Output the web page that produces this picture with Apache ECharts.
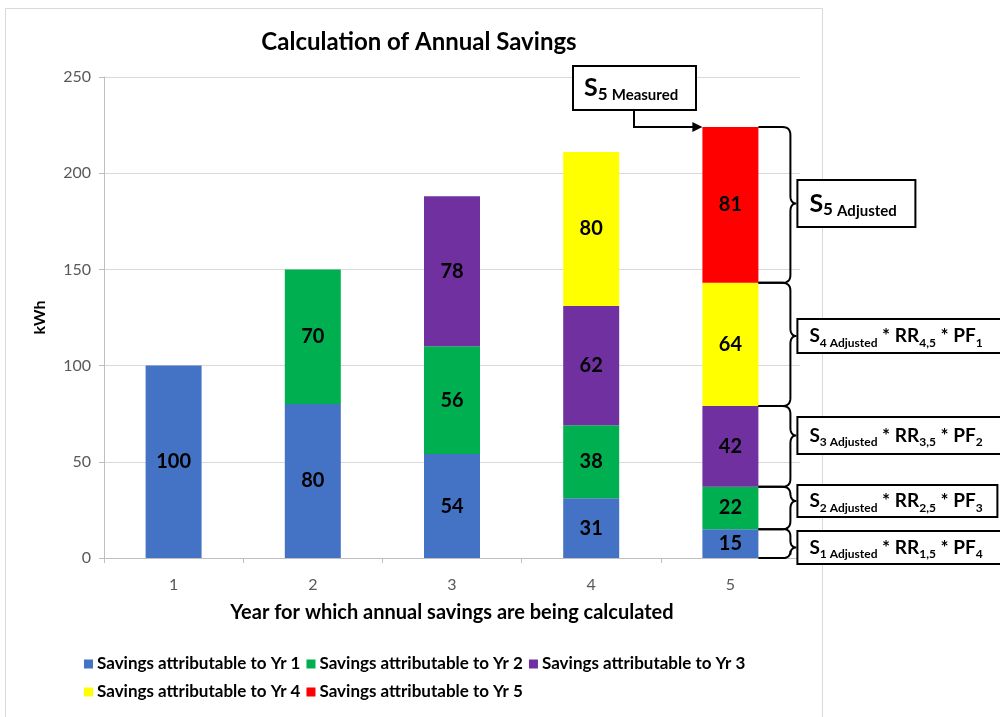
<!DOCTYPE html>
<html>
<head>
<meta charset="utf-8">
<script src="https://cdn.jsdelivr.net/npm/echarts@6/dist/echarts.min.js"></script>
<style>
  html, body { margin: 0; padding: 0; background: #fff; }
  #chart { width: 1000px; height: 717px; }
</style>
</head>
<body>
<div id="chart"></div>
<script>
// 数据
const years = ["1", "2", "3", "4", "5"];
const seriesNames = [
  "Savings attributable to Yr 1",
  "Savings attributable to Yr 2",
  "Savings attributable to Yr 3",
  "Savings attributable to Yr 4",
  "Savings attributable to Yr 5",
];
const yr1 = [100, 80, 54, 31, 15];
const yr2 = ["-", 70, 56, 38, 22];
const yr3 = ["-", "-", 78, 62, 42];
const yr4 = ["-", "-", "-", 80, 64];
const yr5 = ["-", "-", "-", "-", 81];
const colors = ["#4472C4", "#00B050", "#7030A0", "#FFFF00", "#FF0000"];
const yTicks = [0, 50, 100, 150, 200, 250];

const FONT = "Lato";
const allData = [yr1, yr2, yr3, yr4, yr5];

let myChart = echarts.init(document.getElementById("chart"));

myChart.setOption({
  animation: false,
  color: colors,
  title: {
    text: "Calculation of Annual Savings",
    left: 414,
    top: 25,
    textAlign: "center",
    textStyle: { fontFamily: FONT, fontSize: 24, fontWeight: "bold", color: "#000" },
  },
  legend: {
    left: 79,
    top: 648,
    width: 720,
    itemWidth: 9,
    itemHeight: 9,
    itemGap: 6,
    icon: "rect",
    textStyle: { fontFamily: FONT, fontSize: 17, fontWeight: "bold", color: "#000", padding: [0, 0, 0, -1], lineHeight: 22 },
    data: seriesNames,
  },
  grid: {
    left: 104,
    right: 200,
    top: 77,
    bottom: 159,
  },
  xAxis: {
    type: "category",
    data: years,
    name: "Year for which annual savings are being calculated",
    nameLocation: "middle",
    nameGap: 45,
    nameTextStyle: { fontFamily: FONT, fontSize: 20, fontWeight: "bold", color: "#000" },
    axisLine: { show: true, lineStyle: { color: "#bfbfbf" } },
    axisTick: { show: true, alignWithLabel: false, length: 5, lineStyle: { color: "#bfbfbf" } },
    axisLabel: { fontFamily: FONT, fontSize: 16, color: "#595959", margin: 19 },
  },
  yAxis: {
    type: "value",
    min: 0,
    max: 250,
    interval: 50,
    name: "kWh",
    nameLocation: "middle",
    nameGap: 56,
    nameTextStyle: { fontFamily: FONT, fontSize: 16, fontWeight: "bold", color: "#000" },
    axisLine: { show: true, lineStyle: { color: "#bfbfbf" } },
    axisTick: { show: true, length: 5, lineStyle: { color: "#bfbfbf" } },
    axisLabel: {
      fontFamily: FONT, fontSize: 16, color: "#595959", margin: 13,
      formatter: function (v) { return yTicks.indexOf(v) >= 0 ? String(v) : ""; },
    },
    splitLine: { lineStyle: { color: "#d9d9d9" } },
  },
  series: seriesNames.map(function (name, i) {
    return {
      name: name,
      type: "bar",
      stack: "total",
      barWidth: 56,
      data: allData[i],
      itemStyle: { color: colors[i] },
      label: {
        show: true,
        position: "inside",
        fontFamily: FONT,
        fontSize: 20,
        fontWeight: "bold",
        color: "#000",
      },
    };
  }),
});

// 注释：大括号和方框
function px(ci, v) {
  return myChart.convertToPixel({ gridIndex: 0 }, [ci, v]);
}

// 二次曲线采样
function quad(pts, p0, p1, p2) {
  for (let t = 0.125; t <= 1.0001; t += 0.125) {
    let a = (1 - t) * (1 - t), b = 2 * (1 - t) * t, c = t * t;
    pts.push([a * p0[0] + b * p1[0] + c * p2[0], a * p0[1] + b * p1[1] + c * p2[1]]);
  }
}

function bracePoints(x0, xv, xt, yTop, yBot, ym) {
  let h = yBot - yTop;
  let r = Math.min(8, h / 4);
  let pts = [[x0, yTop], [xv - r, yTop]];
  quad(pts, [xv - r, yTop], [xv, yTop], [xv, yTop + r]);
  pts.push([xv, ym - r]);
  quad(pts, [xv, ym - r], [xv, ym], [xt, ym]);
  quad(pts, [xt, ym], [xv, ym], [xv, ym + r]);
  pts.push([xv, yBot - r]);
  quad(pts, [xv, yBot - r], [xv, yBot], [xv - r, yBot]);
  pts.push([x0, yBot]);
  return pts;
}

const subRich = {
  b: { fontFamily: FONT, fontSize: 19, fontWeight: "bold", color: "#000", lineHeight: 26, verticalAlign: "middle" },
  s: { fontFamily: FONT, fontSize: 12, fontWeight: "bold", color: "#000", lineHeight: 26, verticalAlign: "bottom" },
  B: { fontFamily: FONT, fontSize: 25, fontWeight: "bold", color: "#000", lineHeight: 30, verticalAlign: "middle" },
  S: { fontFamily: FONT, fontSize: 17, fontWeight: "bold", color: "#000", lineHeight: 30, verticalAlign: "bottom" },
  m: { fontFamily: FONT, fontSize: 15, fontWeight: "bold", color: "#000", lineHeight: 30, verticalAlign: "bottom" },
};

function adjText(k, rr, pf) {
  return "{b|S}{s|" + k + " Adjusted}{b| * RR}{s|" + rr + "}{b| * PF}{s|" + pf + "}";
}

let cum = [0];
for (let i = 0; i < allData.length; i++) {
  cum.push(cum[i] + allData[i][4]);
}
let xc = px(4, 0)[0];
let barRight = xc + 28;
let xv = barRight + 32;
let xt = xv + 6;
let boxLeft = xt + 1;

// 方框位置 (像素)
const boxes = [
  { top: 180, h: 47, w: 118, text: "{B|S}{S|5 }{m|Adjusted}" },
  { top: 319, h: 34, w: 210, text: adjText(4, "4,5", 1) },
  { top: 417, h: 37, w: 210, text: adjText(3, "3,5", 2) },
  { top: 485, h: 32, w: 200, text: adjText(2, "2,5", 3) },
  { top: 531, h: 33, w: 210, text: adjText(1, "1,5", 4) },
];

let graphics = [];
// 外框
graphics.push({
  type: "rect",
  z: -10,
  shape: { x: 5.5, y: 8.5, width: 817, height: 720 },
  style: { fill: null, stroke: "#d9d9d9", lineWidth: 1 },
});

for (let k = 0; k < 5; k++) {
  let seg = 4 - k;
  let yTop = px(4, cum[seg + 1])[1];
  let yBot = px(4, cum[seg])[1];
  let b = boxes[k];
  let ym = b.top + b.h / 2;
  graphics.push({
    type: "polyline",
    shape: { points: bracePoints(barRight, xv, xt, yTop, yBot, ym) },
    style: { fill: null, stroke: "#000", lineWidth: 2 },
    z: 10,
  });
  graphics.push({
    type: "rect",
    shape: { x: boxLeft, y: b.top, width: b.w, height: b.h },
    style: { fill: "#fff", stroke: "#000", lineWidth: 2 },
    z: 10,
  });
  graphics.push({
    type: "text",
    x: boxLeft + 12,
    y: ym,
    style: { text: b.text, rich: subRich, verticalAlign: "middle", align: "left" },
    z: 11,
  });
}

// S5 Measured
let topY = px(4, cum[5])[1];
graphics.push({
  type: "rect",
  shape: { x: 573, y: 66, width: 123, height: 44 },
  style: { fill: "#fff", stroke: "#000", lineWidth: 2 },
  z: 10,
});
graphics.push({
  type: "text",
  x: 584,
  y: 88,
  style: { text: "{B|S}{S|5 }{m|Measured}", rich: subRich, verticalAlign: "middle", align: "left" },
  z: 11,
});
graphics.push({
  type: "polyline",
  shape: { points: [[634, 110], [634, topY], [xc - 28 - 8, topY]] },
  style: { stroke: "#000", lineWidth: 2, fill: null },
  z: 10,
});
graphics.push({
  type: "polygon",
  shape: { points: [[xc - 28 - 10, topY - 5], [xc - 28, topY], [xc - 28 - 10, topY + 5]] },
  style: { fill: "#000" },
  z: 10,
});

myChart.setOption({ graphic: graphics });

setTimeout(function () {
  window.addEventListener("resize", function () {
    myChart.resize();
  });
}, 50);
</script>
</body>
</html>
